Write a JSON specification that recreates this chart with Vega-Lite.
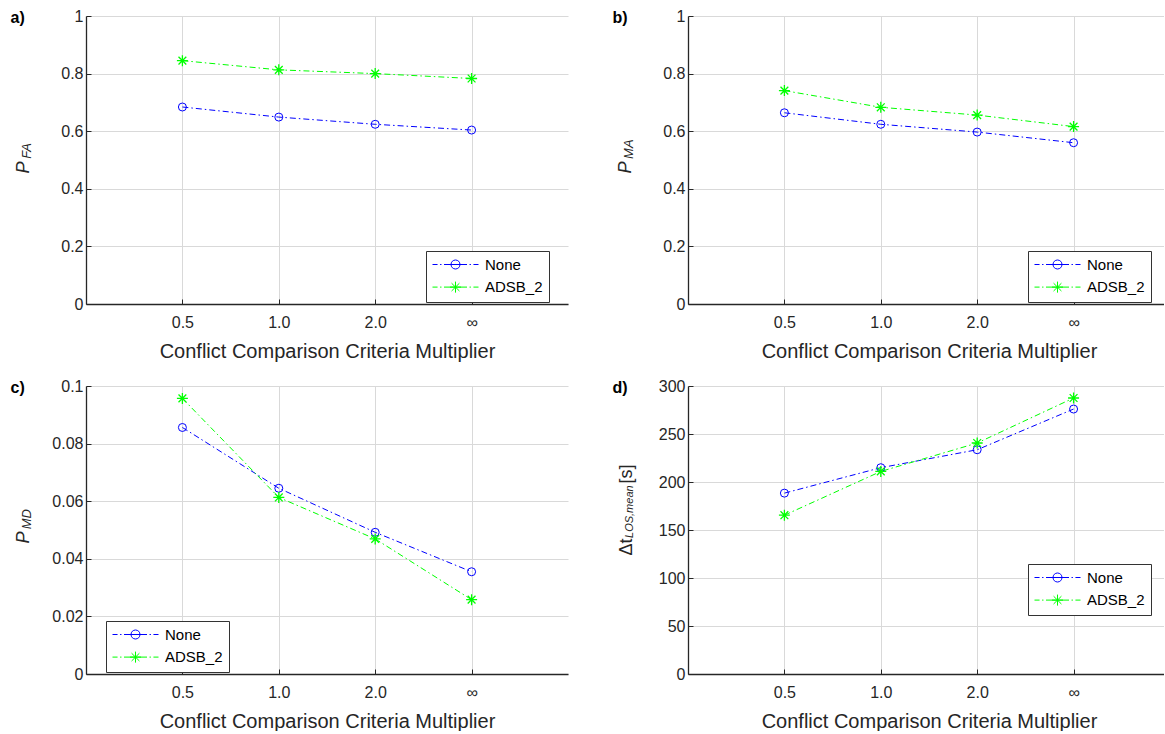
{
  "$schema": "https://vega.github.io/schema/vega-lite/v6.json",
  "background": "white",
  "padding": {"left": 10, "top": 8, "right": 0, "bottom": 0},
  "bounds": "flush",
  "columns": 2,
  "spacing": {"row": 82, "column": 120},
  "resolve": {"scale": {"stroke": "independent", "shape": "independent"}, "legend": {"stroke": "independent", "shape": "independent"}},
  "config": {
    "font": "Liberation Sans",
    "view": {"stroke": null},
    "axis": {
      "labelFont": "Liberation Sans", "labelFontSize": 16, "labelColor": "#262626",
      "titleFont": "Liberation Sans", "titleColor": "#262626",
      "domainColor": "#262626", "domainWidth": 1.3,
      "tickColor": "#262626", "tickSize": -5, "tickWidth": 1,
      "grid": true, "gridColor": "#d9d9d9", "gridWidth": 1
    },
    "axisX": {"labelPadding": 15, "titlePadding": 11, "titleFontSize": 20, "titleFontWeight": "normal"},
    "axisY": {"labelPadding": 8, "format": ".2~f", "titleAngle": 0, "titleAlign": "left", "titleBaseline": "alphabetic", "titleX": -76, "titleY": 6, "titleFontSize": 16, "titleFontWeight": "bold", "titleColor": "black"},
    "title": {"orient": "left", "anchor": "middle", "frame": "group", "offset": -24, "font": "Liberation Sans", "fontSize": 18, "fontStyle": "italic", "fontWeight": "normal", "color": "#262626", "subtitleFont": "Liberation Sans", "subtitleFontSize": 13, "subtitleFontStyle": "italic", "subtitleColor": "#262626", "subtitlePadding": -12},
    "legend": {"orient": "none", "symbolSize": 2116, "clipHeight": 15, "symbolStrokeWidth": 1, "symbolOpacity": 1, "labelFont": "Liberation Sans", "labelFontSize": 15, "labelColor": "black", "labelOffset": 6, "padding": 6, "rowPadding": 6.6, "strokeColor": "#333333", "fillColor": "white", "symbolFillColor": "transparent"}
  },
  "datasets": {
    "a": [
      {"x": 1, "series": "None", "value": 0.684}, {"x": 2, "series": "None", "value": 0.649}, {"x": 3, "series": "None", "value": 0.624}, {"x": 4, "series": "None", "value": 0.604},
      {"x": 1, "series": "ADSB_2", "value": 0.845}, {"x": 2, "series": "ADSB_2", "value": 0.813}, {"x": 3, "series": "ADSB_2", "value": 0.800}, {"x": 4, "series": "ADSB_2", "value": 0.783}
    ],
    "b": [
      {"x": 1, "series": "None", "value": 0.664}, {"x": 2, "series": "None", "value": 0.624}, {"x": 3, "series": "None", "value": 0.597}, {"x": 4, "series": "None", "value": 0.560},
      {"x": 1, "series": "ADSB_2", "value": 0.741}, {"x": 2, "series": "ADSB_2", "value": 0.683}, {"x": 3, "series": "ADSB_2", "value": 0.656}, {"x": 4, "series": "ADSB_2", "value": 0.616}
    ],
    "c": [
      {"x": 1, "series": "None", "value": 0.0856}, {"x": 2, "series": "None", "value": 0.0645}, {"x": 3, "series": "None", "value": 0.0492}, {"x": 4, "series": "None", "value": 0.0355},
      {"x": 1, "series": "ADSB_2", "value": 0.0957}, {"x": 2, "series": "ADSB_2", "value": 0.0613}, {"x": 3, "series": "ADSB_2", "value": 0.0469}, {"x": 4, "series": "ADSB_2", "value": 0.0258}
    ],
    "d": [
      {"x": 1, "series": "None", "value": 188.4}, {"x": 2, "series": "None", "value": 214.9}, {"x": 3, "series": "None", "value": 233.6}, {"x": 4, "series": "None", "value": 276.0},
      {"x": 1, "series": "ADSB_2", "value": 165.4}, {"x": 2, "series": "ADSB_2", "value": 211.0}, {"x": 3, "series": "ADSB_2", "value": 240.6}, {"x": 4, "series": "ADSB_2", "value": 287.5}
    ]
  },
  "concat": [
    {
      "width": 482, "height": 288,
      "data": {"name": "a"},
      "title": {"text": "\u200bP\u00a0\u00a0\u00a0\u200b", "subtitle": "\u200b\u00a0\u00a0\u00a0\u00a0\u00a0FA\u200b"},
      "encoding": {
        "x": {"field": "x", "type": "quantitative", "scale": {"domain": [0, 5], "nice": false, "zero": false},
              "axis": {"values": [1, 2, 3, 4], "labelExpr": "datum.value == 1 ? '0.5' : datum.value == 2 ? '1.0' : datum.value == 3 ? '2.0' : '∞'", "title": "Conflict Comparison Criteria Multiplier"}},
        "y": {"field": "value", "type": "quantitative", "scale": {"domain": [0, 1], "nice": false},
              "axis": {"values": [0, 0.2, 0.4, 0.6, 0.8, 1], "title": "a)"}}
      },
      "layer": [
        {"transform": [{"filter": "datum.series === 'None'"}], "mark": {"type": "line", "color": "#0000ff", "strokeWidth": 1, "strokeDash": [6, 3, 1.5, 3]}},
        {"transform": [{"filter": "datum.series === 'ADSB_2'"}], "mark": {"type": "line", "color": "#00ff00", "strokeWidth": 1, "strokeDash": [6, 3, 1.5, 3]}},
        {"transform": [{"filter": "datum.series === 'None'"}],
         "mark": {"type": "point", "shape": "circle", "size": 64, "filled": false, "color": "#0000ff", "strokeWidth": 1, "opacity": 1}},
        {"transform": [{"filter": "datum.series === 'ADSB_2'"}],
         "mark": {"type": "point", "shape": "M0,-1L0,1M-1,0L1,0M-0.707,-0.707L0.707,0.707M-0.707,0.707L0.707,-0.707", "size": 121, "filled": false, "color": "#00ff00", "strokeWidth": 1.3, "opacity": 1}},
        {"transform": [{"filter": "datum.x > 100"}],
         "mark": {"type": "point", "filled": false},
         "encoding": {
           "stroke": {"field": "series", "type": "nominal", "scale": {"domain": ["None", "ADSB_2"], "range": ["#0000ff", "#00ff00"]}, "legend": {"title": null, "orient": "none", "legendX": 340, "legendY": 235}},
           "shape": {"field": "series", "type": "nominal", "scale": {"domain": ["None", "ADSB_2"], "range": ["M-1,0L-0.78,0M-0.67,0L-0.61,0M-0.5,0L0.5,0M0.61,0L0.67,0M0.78,0L1,0M0.196,0A0.196,0.196,0,1,1,-0.196,0A0.196,0.196,0,1,1,0.196,0", "M-1,0L-0.78,0M-0.67,0L-0.61,0M-0.5,0L0.5,0M0.61,0L0.67,0M0.78,0L1,0M0,-0.24L0,0.24M-0.24,0L0.24,0M-0.17,-0.17L0.17,0.17M-0.17,0.17L0.17,-0.17"]}, "legend": {"title": null, "orient": "none", "legendX": 340, "legendY": 235}}
         }}
      ]
    },
    {
      "width": 476, "height": 288,
      "data": {"name": "b"},
      "title": {"text": "\u200bP\u00a0\u00a0\u00a0\u200b", "subtitle": "\u200b\u00a0\u00a0\u00a0\u00a0\u00a0\u00a0MA\u200b"},
      "encoding": {
        "x": {"field": "x", "type": "quantitative", "scale": {"domain": [0, 4.938], "nice": false, "zero": false},
              "axis": {"values": [1, 2, 3, 4], "labelExpr": "datum.value == 1 ? '0.5' : datum.value == 2 ? '1.0' : datum.value == 3 ? '2.0' : '∞'", "title": "Conflict Comparison Criteria Multiplier", "titleX": 241}},
        "y": {"field": "value", "type": "quantitative", "scale": {"domain": [0, 1], "nice": false},
              "axis": {"values": [0, 0.2, 0.4, 0.6, 0.8, 1], "title": "b)"}}
      },
      "layer": [
        {"transform": [{"filter": "datum.series === 'None'"}], "mark": {"type": "line", "color": "#0000ff", "strokeWidth": 1, "strokeDash": [6, 3, 1.5, 3]}},
        {"transform": [{"filter": "datum.series === 'ADSB_2'"}], "mark": {"type": "line", "color": "#00ff00", "strokeWidth": 1, "strokeDash": [6, 3, 1.5, 3]}},
        {"transform": [{"filter": "datum.series === 'None'"}],
         "mark": {"type": "point", "shape": "circle", "size": 64, "filled": false, "color": "#0000ff", "strokeWidth": 1, "opacity": 1}},
        {"transform": [{"filter": "datum.series === 'ADSB_2'"}],
         "mark": {"type": "point", "shape": "M0,-1L0,1M-1,0L1,0M-0.707,-0.707L0.707,0.707M-0.707,0.707L0.707,-0.707", "size": 121, "filled": false, "color": "#00ff00", "strokeWidth": 1.3, "opacity": 1}},
        {"transform": [{"filter": "datum.x > 100"}],
         "mark": {"type": "point", "filled": false},
         "encoding": {
           "stroke": {"field": "series", "type": "nominal", "scale": {"domain": ["None", "ADSB_2"], "range": ["#0000ff", "#00ff00"]}, "legend": {"title": null, "orient": "none", "legendX": 340, "legendY": 235}},
           "shape": {"field": "series", "type": "nominal", "scale": {"domain": ["None", "ADSB_2"], "range": ["M-1,0L-0.78,0M-0.67,0L-0.61,0M-0.5,0L0.5,0M0.61,0L0.67,0M0.78,0L1,0M0.196,0A0.196,0.196,0,1,1,-0.196,0A0.196,0.196,0,1,1,0.196,0", "M-1,0L-0.78,0M-0.67,0L-0.61,0M-0.5,0L0.5,0M0.61,0L0.67,0M0.78,0L1,0M0,-0.24L0,0.24M-0.24,0L0.24,0M-0.17,-0.17L0.17,0.17M-0.17,0.17L0.17,-0.17"]}, "legend": {"title": null, "orient": "none", "legendX": 340, "legendY": 235}}
         }}
      ]
    },
    {
      "width": 482, "height": 288,
      "data": {"name": "c"},
      "title": {"text": "\u200bP\u00a0\u00a0\u00a0\u200b", "subtitle": "\u200b\u00a0\u00a0\u00a0\u00a0\u00a0\u00a0MD\u200b"},
      "encoding": {
        "x": {"field": "x", "type": "quantitative", "scale": {"domain": [0, 5], "nice": false, "zero": false},
              "axis": {"values": [1, 2, 3, 4], "labelExpr": "datum.value == 1 ? '0.5' : datum.value == 2 ? '1.0' : datum.value == 3 ? '2.0' : '∞'", "title": "Conflict Comparison Criteria Multiplier"}},
        "y": {"field": "value", "type": "quantitative", "scale": {"domain": [0, 0.1], "nice": false},
              "axis": {"values": [0, 0.02, 0.04, 0.06, 0.08, 0.1], "title": "c)"}}
      },
      "layer": [
        {"transform": [{"filter": "datum.series === 'None'"}], "mark": {"type": "line", "color": "#0000ff", "strokeWidth": 1, "strokeDash": [6, 3, 1.5, 3]}},
        {"transform": [{"filter": "datum.series === 'ADSB_2'"}], "mark": {"type": "line", "color": "#00ff00", "strokeWidth": 1, "strokeDash": [6, 3, 1.5, 3]}},
        {"transform": [{"filter": "datum.series === 'None'"}],
         "mark": {"type": "point", "shape": "circle", "size": 64, "filled": false, "color": "#0000ff", "strokeWidth": 1, "opacity": 1}},
        {"transform": [{"filter": "datum.series === 'ADSB_2'"}],
         "mark": {"type": "point", "shape": "M0,-1L0,1M-1,0L1,0M-0.707,-0.707L0.707,0.707M-0.707,0.707L0.707,-0.707", "size": 121, "filled": false, "color": "#00ff00", "strokeWidth": 1.3, "opacity": 1}},
        {"transform": [{"filter": "datum.x > 100"}],
         "mark": {"type": "point", "filled": false},
         "encoding": {
           "stroke": {"field": "series", "type": "nominal", "scale": {"domain": ["None", "ADSB_2"], "range": ["#0000ff", "#00ff00"]}, "legend": {"title": null, "orient": "none", "legendX": 20, "legendY": 235}},
           "shape": {"field": "series", "type": "nominal", "scale": {"domain": ["None", "ADSB_2"], "range": ["M-1,0L-0.78,0M-0.67,0L-0.61,0M-0.5,0L0.5,0M0.61,0L0.67,0M0.78,0L1,0M0.196,0A0.196,0.196,0,1,1,-0.196,0A0.196,0.196,0,1,1,0.196,0", "M-1,0L-0.78,0M-0.67,0L-0.61,0M-0.5,0L0.5,0M0.61,0L0.67,0M0.78,0L1,0M0,-0.24L0,0.24M-0.24,0L0.24,0M-0.17,-0.17L0.17,0.17M-0.17,0.17L0.17,-0.17"]}, "legend": {"title": null, "orient": "none", "legendX": 20, "legendY": 235}}
         }}
      ]
    },
    {
      "width": 476, "height": 288,
      "data": {"name": "d"},
      "title": {"text": "\u200b\u00a0\u00a0\u00a0\u00a0\u00a0\u00a0\u00a0\u00a0Δt\u00a0\u00a0\u00a0\u00a0\u00a0\u00a0\u00a0\u00a0\u00a0\u00a0\u00a0[s]\u200b", "subtitle": "\u200b\u00a0\u00a0\u00a0\u00a0\u00a0\u00a0\u00a0\u00a0\u00a0\u00a0\u00a0\u00a0LOS,mean\u200b", "fontStyle": "normal", "subtitleFontSize": 11},
      "encoding": {
        "x": {"field": "x", "type": "quantitative", "scale": {"domain": [0, 4.938], "nice": false, "zero": false},
              "axis": {"values": [1, 2, 3, 4], "labelExpr": "datum.value == 1 ? '0.5' : datum.value == 2 ? '1.0' : datum.value == 3 ? '2.0' : '∞'", "title": "Conflict Comparison Criteria Multiplier", "titleX": 241}},
        "y": {"field": "value", "type": "quantitative", "scale": {"domain": [0, 300], "nice": false},
              "axis": {"values": [0, 50, 100, 150, 200, 250, 300], "title": "d)"}}
      },
      "layer": [
        {"transform": [{"filter": "datum.series === 'None'"}], "mark": {"type": "line", "color": "#0000ff", "strokeWidth": 1, "strokeDash": [6, 3, 1.5, 3]}},
        {"transform": [{"filter": "datum.series === 'ADSB_2'"}], "mark": {"type": "line", "color": "#00ff00", "strokeWidth": 1, "strokeDash": [6, 3, 1.5, 3]}},
        {"transform": [{"filter": "datum.series === 'None'"}],
         "mark": {"type": "point", "shape": "circle", "size": 64, "filled": false, "color": "#0000ff", "strokeWidth": 1, "opacity": 1}},
        {"transform": [{"filter": "datum.series === 'ADSB_2'"}],
         "mark": {"type": "point", "shape": "M0,-1L0,1M-1,0L1,0M-0.707,-0.707L0.707,0.707M-0.707,0.707L0.707,-0.707", "size": 121, "filled": false, "color": "#00ff00", "strokeWidth": 1.3, "opacity": 1}},
        {"transform": [{"filter": "datum.x > 100"}],
         "mark": {"type": "point", "filled": false},
         "encoding": {
           "stroke": {"field": "series", "type": "nominal", "scale": {"domain": ["None", "ADSB_2"], "range": ["#0000ff", "#00ff00"]}, "legend": {"title": null, "orient": "none", "legendX": 340, "legendY": 178}},
           "shape": {"field": "series", "type": "nominal", "scale": {"domain": ["None", "ADSB_2"], "range": ["M-1,0L-0.78,0M-0.67,0L-0.61,0M-0.5,0L0.5,0M0.61,0L0.67,0M0.78,0L1,0M0.196,0A0.196,0.196,0,1,1,-0.196,0A0.196,0.196,0,1,1,0.196,0", "M-1,0L-0.78,0M-0.67,0L-0.61,0M-0.5,0L0.5,0M0.61,0L0.67,0M0.78,0L1,0M0,-0.24L0,0.24M-0.24,0L0.24,0M-0.17,-0.17L0.17,0.17M-0.17,0.17L0.17,-0.17"]}, "legend": {"title": null, "orient": "none", "legendX": 340, "legendY": 178}}
         }}
      ]
    }
  ]
}
